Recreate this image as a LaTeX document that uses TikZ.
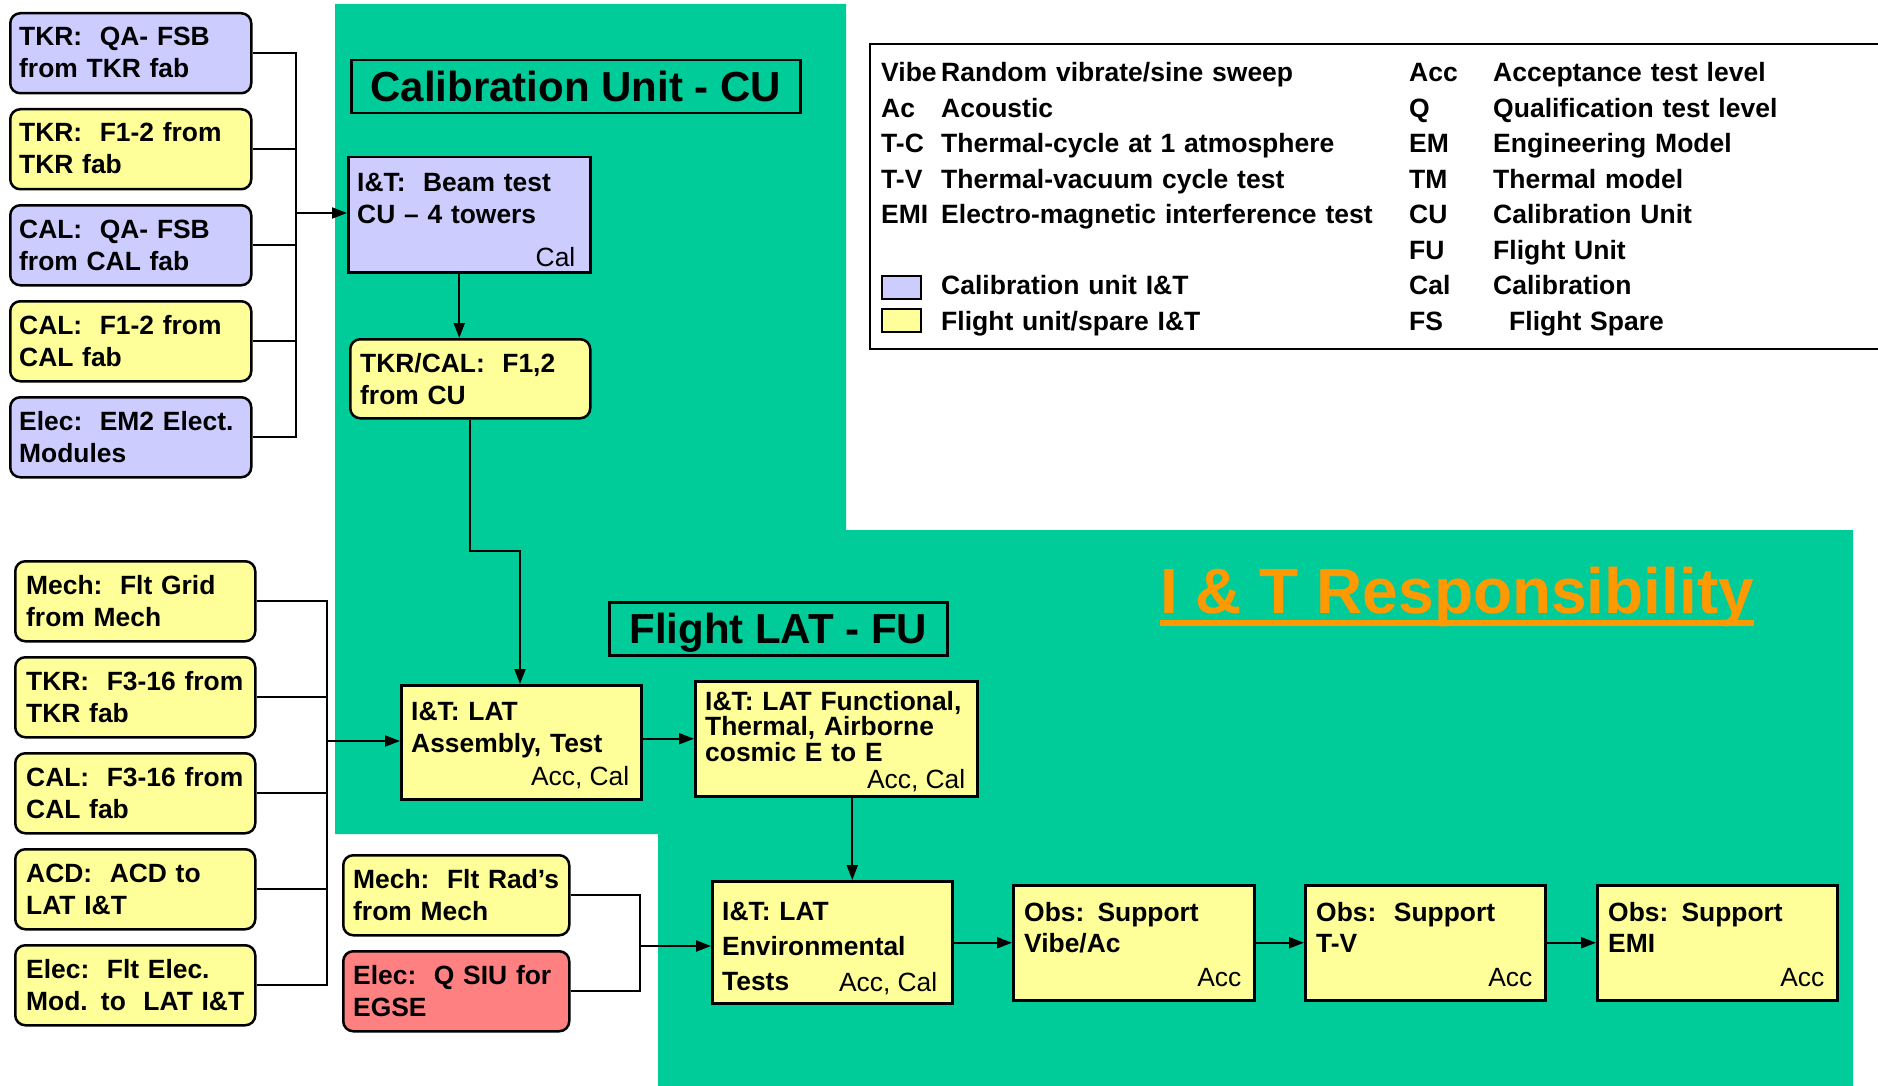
\documentclass[tikz,border=0pt]{standalone}
\usepackage{fontspec}
\setmainfont{Liberation Sans}
\usetikzlibrary{arrows.meta,calc}
\definecolor{ggreen}{RGB}{0,204,153}
\definecolor{bluebox}{RGB}{204,204,255}
\definecolor{yelbox}{RGB}{255,255,153}
\definecolor{redbox}{RGB}{255,128,128}
\definecolor{orng}{RGB}{255,153,0}
\begin{document}
\begin{tikzpicture}[x=1pt,y=-1pt,
  box/.style={draw=black, line width=2.5pt, inner sep=0pt, anchor=north west},
  rbox/.style={box, rounded corners=10pt},
  tx/.style={anchor=base west, inner sep=0pt, text width=225pt, align=left,
    font=\fontsize{26.4}{32}\selectfont\bfseries},
  rt/.style={anchor=base east, inner sep=0pt, font=\fontsize{26.4}{32}\selectfont},
  lg/.style={anchor=base west, inner sep=0pt, align=left,
    font=\fontsize{26.5}{35.5}\selectfont\bfseries},
  ttl/.style={draw=black, line width=2.5pt, inner sep=0pt, anchor=north west, text depth=0pt,
    font=\fontsize{42}{50}\selectfont\bfseries},
  ln/.style={line width=2pt},
  arr/.style={line width=2pt, -{Triangle[length=15pt,width=11pt]}}
]
\useasboundingbox (0,0) rectangle (1878,1086);
\fill[white] (0,0) rectangle (1878,1086);
% green responsibility area
\fill[ggreen] (335,4) -- (846,4) -- (846,530) -- (1853,530) -- (1853,1086)
  -- (658,1086) -- (658,834) -- (335,834) -- cycle;

% titles
\node[ttl, minimum width=449pt, minimum height=53pt] (cut) at (350,59) {Calibration Unit - CU};
\node[ttl, minimum width=338pt, minimum height=53pt] (fut) at (608,601) {Flight LAT - FU};
\node[anchor=base west, inner sep=0pt, text=orng, font=\fontsize{64}{70}\selectfont\bfseries]
  (resp) at (1160,613) {I \& T Responsibility};
\draw[orng, line width=6pt] ($(resp.base west)+(0,9.5)$) -- ($(resp.base east)+(0,9.5)$);

% legend
\draw[line width=2.5pt] (1878,44) -- (870,44) -- (870,349) -- (1878,349);
\node[lg, text width=58pt] (l1) at (881,82) {Vibe\\Ac\\T-C\\T-V\\EMI};
\node[lg, text width=450pt] (l2) at (941,82) {Random vibrate/sine sweep\\Acoustic\\Thermal-cycle at 1 atmosphere\\Thermal-vacuum cycle test\\Electro-magnetic interference test\\\mbox{}\\Calibration unit I\&T\\Flight unit/spare I\&T};
\node[lg, text width=70pt] (l3) at (1409,82) {Acc\\Q\\EM\\TM\\CU\\FU\\Cal\\FS};
\node[lg, text width=380pt] (l4) at (1493,82) {Acceptance test level\\Qualification test level\\Engineering Model\\Thermal model\\Calibration Unit\\Flight Unit\\Calibration\\\hspace*{16pt}Flight Spare};
\node[box, line width=2pt, fill=bluebox, minimum width=39pt, minimum height=23pt] (sw1) at (881,275) {};
\node[box, line width=2pt, fill=yelbox, minimum width=39pt, minimum height=23pt] (sw2) at (881,308) {};

% top-left supplier boxes
\node[rbox, fill=bluebox, minimum width=241pt, minimum height=80pt] (b1) at (9,12) {};
\node[rbox, fill=yelbox,  minimum width=241pt, minimum height=80pt] (b2) at (9,108) {};
\node[rbox, fill=bluebox, minimum width=241pt, minimum height=80pt] (b3) at (9,204) {};
\node[rbox, fill=yelbox,  minimum width=241pt, minimum height=80pt] (b4) at (9,300) {};
\node[rbox, fill=bluebox, minimum width=241pt, minimum height=80pt] (b5) at (9,396) {};
\node[tx] (b1t) at ($(b1.north west)+(10,34)$) {TKR:\ \ QA- FSB\\from TKR fab};
\node[tx] (b2t) at ($(b2.north west)+(10,34)$) {TKR:\ \ F1-2 from\\TKR fab};
\node[tx] (b3t) at ($(b3.north west)+(10,34)$) {CAL:\ \ QA- FSB\\from CAL fab};
\node[tx] (b4t) at ($(b4.north west)+(10,34)$) {CAL:\ \ F1-2 from\\CAL fab};
\node[tx] (b5t) at ($(b5.north west)+(10,34)$) {Elec:\ \ EM2 Elect.\\Modules};

% calibration unit chain
\node[box, fill=bluebox, minimum width=242pt, minimum height=115pt] (beam) at (347,156) {};
\node[tx] (beamt) at ($(beam.north west)+(10,36)$) {I\&T:\ \ Beam test\\CU – 4 towers};
\node[rt] (beamc) at ($(beam.south east)+(-16,-7)$) {Cal};
\node[rbox, fill=yelbox, minimum width=240pt, minimum height=79pt] (tc) at (349,338) {};
\node[tx] (tct) at ($(tc.north west)+(11,34)$) {TKR/CAL:\ \ F1,2\\from CU};

% lower-left supplier boxes
\node[rbox, fill=yelbox, minimum width=240pt, minimum height=80pt] (c1) at (14,560) {};
\node[rbox, fill=yelbox, minimum width=240pt, minimum height=80pt] (c2) at (14,656) {};
\node[rbox, fill=yelbox, minimum width=240pt, minimum height=80pt] (c3) at (14,752) {};
\node[rbox, fill=yelbox, minimum width=240pt, minimum height=80pt] (c4) at (14,848) {};
\node[rbox, fill=yelbox, minimum width=240pt, minimum height=80pt] (c5) at (14,944) {};
\node[tx] (c1t) at ($(c1.north west)+(12,34)$) {Mech:\ \ Flt Grid\\from Mech};
\node[tx] (c2t) at ($(c2.north west)+(12,34)$) {TKR:\ \ F3-16 from\\TKR fab};
\node[tx] (c3t) at ($(c3.north west)+(12,34)$) {CAL:\ \ F3-16 from\\CAL fab};
\node[tx] (c4t) at ($(c4.north west)+(12,34)$) {ACD:\ \ ACD to\\LAT I\&T};
\node[tx] (c5t) at ($(c5.north west)+(12,34)$) {Elec:\ \ Flt Elec.\\Mod. to\ \ LAT I\&T};

% flight LAT chain
\node[box, fill=yelbox, minimum width=240pt, minimum height=114pt] (asm) at (400,684) {};
\node[tx] (asmt) at ($(asm.north west)+(11,36)$) {I\&T: LAT\\Assembly, Test};
\node[rt] (asmc) at ($(asm.south east)+(-13,-15)$) {Acc, Cal};
\node[box, fill=yelbox, minimum width=282pt, minimum height=115pt] (func) at (694,680) {};
\node[tx, text width=268pt, font=\fontsize{26.4}{25.5}\selectfont\bfseries] (funct) at ($(func.north west)+(11,30)$) {I\&T: LAT Functional,\\Thermal, Airborne\\cosmic E to E};
\node[rt] (funcc) at ($(func.south east)+(-13,-9)$) {Acc, Cal};
\node[box, fill=yelbox, minimum width=240pt, minimum height=122pt] (env) at (711,880) {};
\node[tx, font=\fontsize{26.4}{35}\selectfont\bfseries] (envt) at ($(env.north west)+(11,40)$) {I\&T: LAT\\Environmental\\Tests};
\node[rt] (envc) at ($(env.south east)+(-16,-13)$) {Acc, Cal};
\node[rbox, fill=yelbox, minimum width=226pt, minimum height=80pt] (rad) at (342,854) {};
\node[rbox, fill=redbox, minimum width=226pt, minimum height=80pt] (siu) at (342,950) {};
\node[tx, text width=212pt] (radt) at ($(rad.north west)+(11,34)$) {Mech:\ \ Flt Rad’s\\from Mech};
\node[tx, text width=212pt] (siut) at ($(siu.north west)+(11,34)$) {Elec:\ \ Q SIU for\\EGSE};
\node[box, fill=yelbox, minimum width=241pt, minimum height=115pt] (o1) at (1012,884) {};
\node[box, fill=yelbox, minimum width=240pt, minimum height=115pt] (o2) at (1304,884) {};
\node[box, fill=yelbox, minimum width=240pt, minimum height=115pt] (o3) at (1596,884) {};
\node[tx, font=\fontsize{26.4}{30.5}\selectfont\bfseries] (o1t) at ($(o1.north west)+(12,37.5)$) {Obs: Support\\Vibe/Ac};
\node[tx, font=\fontsize{26.4}{30.5}\selectfont\bfseries] (o2t) at ($(o2.north west)+(12,37.5)$) {Obs:\ \ Support\\T-V};
\node[tx, font=\fontsize{26.4}{30.5}\selectfont\bfseries] (o3t) at ($(o3.north west)+(12,37.5)$) {Obs: Support\\EMI};
\node[rt] (o1c) at ($(o1.south east)+(-14,-15)$) {Acc};
\node[rt] (o2c) at ($(o2.south east)+(-14,-15)$) {Acc};
\node[rt] (o3c) at ($(o3.south east)+(-14,-15)$) {Acc};

% connectors: top-left bus
\coordinate (busA) at (296,213);
\foreach \b in {b1,b2,b3,b4,b5} { \draw[ln] (\b.east) -| (busA); }
\draw[arr] (busA) -- (busA -| beam.west);
\coordinate (bt) at ([xshift=-10pt]beam.south);
\draw[arr] (bt) -- (bt |- tc.north);
\coordinate (j1) at (520,551);
\draw[arr] (tc.south) |- (j1) -- (j1 |- asm.north);

% lower-left bus
\coordinate (busB) at (326.5,741);
\foreach \c in {c1,c2,c3,c4,c5} { \draw[ln] (\c.east) -| (busB); }
\draw[arr] (busB) -- (busB -| asm.west);

\draw[arr] (asm.east |- func.west) -- (func.west);
\coordinate (fe) at ([xshift=16pt]func.south);
\draw[arr] (fe) -- (fe |- env.north);

% radiator / SIU bus
\coordinate (busC) at (640,946);
\draw[ln] (rad.east) -| (busC);
\draw[ln] (siu.east) -| (busC);
\draw[arr] (busC) -- (busC -| env.west);

\draw[arr] (env.east |- o1.west) -- (o1.west);
\draw[arr] (o1.east) -- (o2.west);
\draw[arr] (o2.east) -- (o3.west);
\end{tikzpicture}
\end{document}
